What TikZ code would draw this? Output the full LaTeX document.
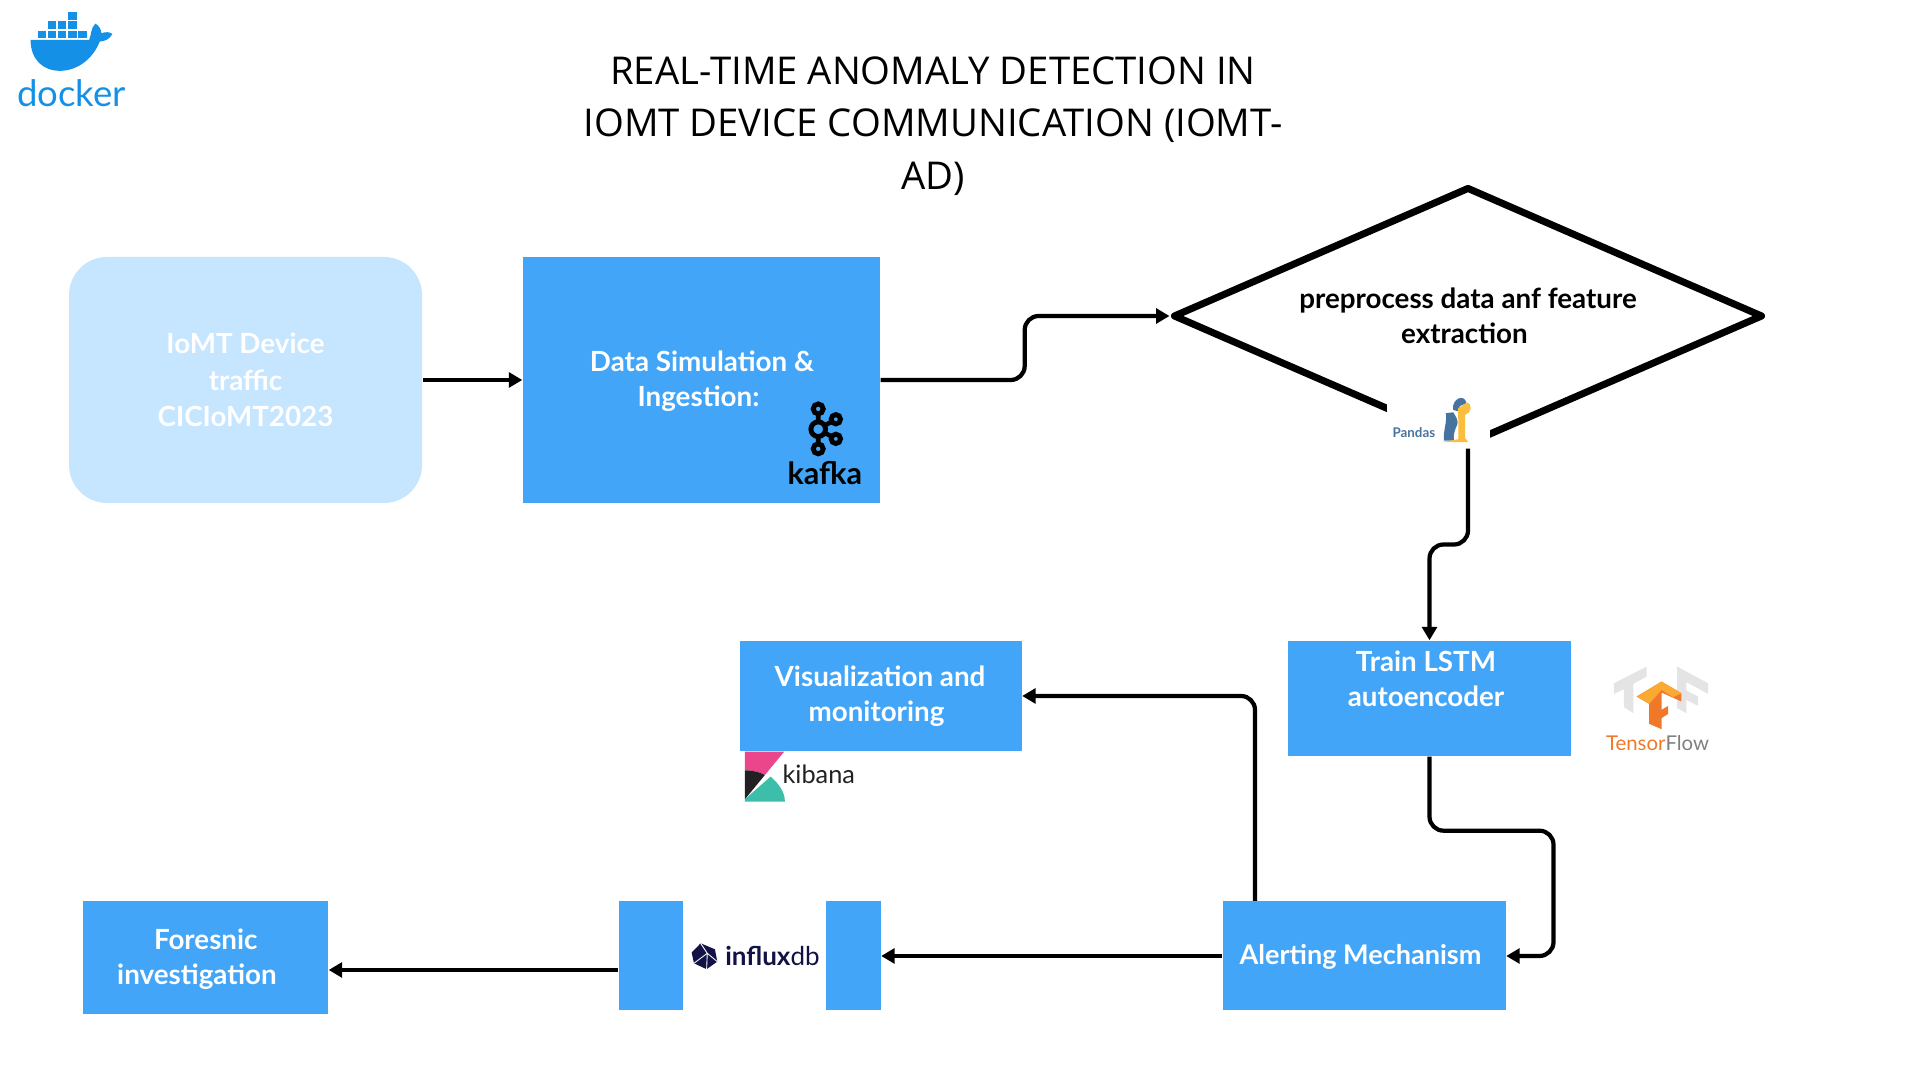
\documentclass[tikz,border=0pt]{standalone}
\usepackage{fontspec}
\setmainfont{Lato}
\newfontfamily\titlefont{Open Sans}
\usetikzlibrary{arrows.meta, calc, shapes.geometric}
\definecolor{boxblue}{RGB}{66, 165, 248}
\definecolor{softblue}{RGB}{198, 229, 255}
\definecolor{dockerblue}{RGB}{20, 145, 230}
\definecolor{pandasblue}{RGB}{70, 115, 160}
\definecolor{pandasgold}{RGB}{250, 190, 60}
\definecolor{tforange}{RGB}{240, 120, 40}
\definecolor{tfgold}{RGB}{250, 170, 50}
\definecolor{tfgray}{RGB}{228, 228, 228}
\definecolor{kibpink}{RGB}{235, 70, 140}
\definecolor{kibdark}{RGB}{35, 32, 35}
\definecolor{kibteal}{RGB}{60, 190, 170}
\definecolor{influxnavy}{RGB}{18, 18, 70}
\newcommand{\boxfont}{\fontsize{7.9}{9.9}\selectfont\bfseries}
\tikzset{
  flatbox/.style={fill=boxblue, minimum width=#1, inner sep=0pt},
  boxlabel/.style={text=white, font=\boxfont, align=center, inner sep=0pt},
  flow/.style={black, line width=1.2pt, rounded corners=0.14cm, -{Triangle[length=3.8pt,width=4.2pt]}},
  logo/.style={x=0.003333cm, y=-0.003333cm}
}

\begin{document}
\begin{tikzpicture}[scale=1.0, >=Stealth]
  \useasboundingbox (0,0) rectangle (19.2,10.8);

  % Title
  \node[font=\titlefont\fontsize{10.9}{15}\selectfont, align=center] (title) at (9.33,9.54)
    {REAL-TIME ANOMALY DETECTION IN\\IOMT DEVICE COMMUNICATION (IOMT-\\AD)};

  % Top row
  \node[fill=softblue, rounded corners=0.38cm, minimum width=3.53cm, minimum height=2.46cm, boxlabel] (device) at (2.455,7.0)
    {\raisebox{1pt}{IoMT Device}\\\raisebox{0.5pt}{traffic}\\CICIoMT2023};
  \node[flatbox=3.57cm, minimum height=2.46cm] (ingest) at (7.015,7.0) {};
  \node[boxlabel] (ingestlabel) at (7.02,6.985) {Data Simulation \&\\Ingestion:\hspace*{2pt}};
  \node[diamond, draw=black, line width=2pt, line join=round, shape aspect=2.3, minimum width=5.9cm, minimum height=2.58cm, inner sep=0pt, boxlabel, text=black] (prep) at (14.68,7.64)
    {preprocess data anf feature\\extraction\hspace*{2pt}};
  \node[fill=white, minimum width=1.03cm, minimum height=0.51cm, inner sep=0pt] (pandaspatch) at (14.385,6.545) {};

  % Middle row
  \node[flatbox=2.83cm, minimum height=1.15cm] (train) at (14.295,3.815) {};
  \node[boxlabel] (trainlabel) at (14.26,4.01) {Train LSTM\\autoencoder};
  \node[flatbox=2.82cm, minimum height=1.10cm] (visual) at (8.805,3.84) {};
  \node[boxlabel] (visuallabel) at (8.80,3.835) {Visualization and\\monitoring\hspace*{2pt}};

  % Bottom row
  \node[flatbox=2.83cm, minimum height=1.09cm] (alert) at (13.64,1.24) {};
  \node[boxlabel, font=\fontsize{7.7}{9.9}\selectfont\bfseries] (alertlabel) at (13.605,1.235) {Alerting Mechanism};
  \node[flatbox=0.64cm, minimum height=1.09cm] (storeleft) at (6.505,1.24) {};
  \node[flatbox=0.55cm, minimum height=1.09cm] (storeright) at (8.53,1.24) {};
  \node[flatbox=2.45cm, minimum height=1.13cm] (forensic) at (2.055,1.22) {};
  \node[boxlabel] (forensiclabel) at (1.97,1.21) {\hspace*{5pt}Foresnic\\investigation};
  \coordinate (storeout) at ($(storeleft.west)+(0,-0.14)$);

  % Connectors
  \draw[flow] (device.east) -- (ingest.west);
  \draw[flow] (ingest.east) -- ++(1.44,0) |- (prep.west);
  \draw[flow] (prep.south) -- ++(0,-0.96) -| (train.north);
  \draw[flow] (train.south) -- ++(0,-0.74) -- ++(1.24,0) |- (alert.east);
  \draw[flow] (alert.north -| 12.55,0) |- (visual.east);
  \draw[flow] (alert.west) -- (storeright.east);
  \draw[flow] (storeout) -- (storeout -| forensic.east);

  % Docker logo
  \begin{scope}[shift={(0,10.8)}, logo]
    \foreach \xa in {113,143,174,205,236} \fill[dockerblue] (\xa,92) rectangle ++(25,23);
    \foreach \xa in {143,174,205} \fill[dockerblue] (\xa,63) rectangle ++(25,24);
    \fill[dockerblue] (205,35) rectangle ++(25,24);
    \fill[dockerblue] (92,120) -- (268,120) .. controls (275,105) and (272,85) .. (287,71)
      .. controls (298,78) and (304,88) .. (305,100) .. controls (318,95) and (330,96) .. (338,102)
      .. controls (330,118) and (315,124) .. (300,125) .. controls (280,175) and (235,213) .. (180,213)
      .. controls (130,213) and (92,180) .. (92,120) -- cycle;
    \node[text=dockerblue, font=\fontsize{10.4}{12}\selectfont, inner sep=0pt] (dockertext) at (215,280) {docker};
  \end{scope}

  % Kafka logo
  \begin{scope}[shift={(7.6,7.0)}, logo]
    \draw[line width=1.3pt] (175,87) -- (175,207) (175,148) -- (228,118) (175,148) -- (228,177);
    \foreach \xa/\ya/\ra in {175/148/22, 175/87/15, 175/207/15, 228/118/14, 228/177/14}
      \filldraw[draw=black, fill=boxblue, line width=1.4pt] (\xa,\ya) circle (\ra);
    \node[font=\fontsize{8.7}{10}\selectfont\bfseries, inner sep=0pt] (kafkatext) at (195,280) {kafka};
  \end{scope}

  % Pandas logo
  \begin{scope}[shift={(13.6,7.0)}, logo]
    \node[text=pandasblue, font=\fontsize{3.8}{5}\selectfont\bfseries, inner sep=0pt] (pandastext) at (162,157) {Pandas};
    \fill[pandasblue] (252,182) .. controls (250,150) and (262,130) .. (258,100) -- (280,97)
      .. controls (292,115) and (296,125) .. (292,135) .. controls (285,150) and (280,165) .. (282,182) -- cycle;
    \fill[pandasblue] (280,90) .. controls (275,55) and (315,40) .. (320,70) -- (300,78) -- (298,95) -- cycle;
    \fill[pandasgold] (295,85) -- (320,68) .. controls (340,70) and (335,100) .. (316,105)
      -- (316,175) -- (326,187) -- (245,187) -- (296,178) -- cycle;
  \end{scope}

  % TensorFlow logo
  \begin{scope}[shift={(15.9,4.3)}, logo]
    \fill[tfgray] (72,100) -- (170,50) -- (170,80) -- (130,102) -- (130,190) -- (102,172) -- (102,118) -- (72,132) -- cycle;
    \fill[tfgray] (262,50) -- (355,100) -- (355,132) -- (290,97) -- (290,122) -- (325,140) -- (325,168) -- (290,150) -- (290,190) -- (262,175) -- cycle;
    \fill[tforange] (140,140) -- (178,162) -- (178,222) -- (215,238) -- (215,205) -- (235,192) -- (235,168) -- (215,180) -- (215,128) -- (275,155) -- (275,130) -- (215,95) -- cycle;
    \fill[tfgold] (140,140) -- (215,95) -- (275,130) -- (250,142) -- (215,120) -- (178,162) -- cycle;
    \node[font=\fontsize{5.8}{7}\selectfont, inner sep=0pt] (tftext) at (203,281) {\textcolor{tforange}{Tensor}\textcolor{gray}{Flow}};
  \end{scope}

  % Kibana logo
  \begin{scope}[shift={(7.3,3.4)}, logo]
    \fill[kibpink] (45,35) -- (163,35) -- (105,105) .. controls (88,96) and (65,91) .. (45,91) -- cycle;
    \fill[kibdark] (45,91) .. controls (65,91) and (88,96) .. (105,105) -- (45,178) -- cycle;
    \fill[kibteal] (122,110) .. controls (145,130) and (165,155) .. (165,185) -- (45,185) -- (45,178) -- cycle;
    \node[text=kibdark, font=\fontsize{7.2}{9}\selectfont, inner sep=0pt] (kibanatext) at (267,102) {kibana};
  \end{scope}

  % InfluxDB logo
  \begin{scope}[shift={(6.8,1.5)}, logo]
    \fill[influxnavy] (62,40) -- (105,58) -- (112,95) -- (80,118) -- (42,100) -- (35,68) -- cycle;
    \draw[white, line width=0.25pt] (62,40) -- (82,70) -- (42,100) (82,70) -- (112,95) (82,70) -- (80,118);
    \node[text=influxnavy, font=\fontsize{7.4}{9}\selectfont, inner sep=0pt] (influxtext) at (278,78) {\textbf{influx}db};
  \end{scope}
\end{tikzpicture}
\end{document}
